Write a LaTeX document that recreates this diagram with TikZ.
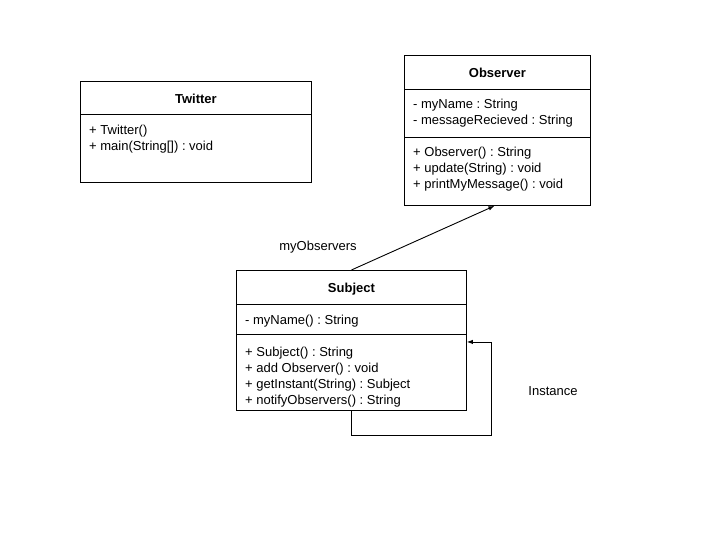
\documentclass[tikz,border=0pt]{standalone}
\usepackage{fontspec}
\setmainfont{Liberation Sans}
\frenchspacing
\usetikzlibrary{calc,arrows.meta}
\tikzset{class box/.style={draw=black, line width=0.9pt, inner sep=0pt},
    class line/.style={draw=black, line width=0.9pt},
    class title/.style={anchor=base, inner sep=0pt, font=\fontsize{13}{16}\selectfont\bfseries},
    member/.style={anchor=base west, inner sep=0pt, font=\fontsize{13}{16}\selectfont},
    assoc/.style={draw=black, line width=0.9pt, -{Latex[length=6pt,width=4.5pt]}}
    }
% #1 name, #2 left, #3 top, #4 width, #5 height
\def\ClassBox#1#2#3#4#5{%
 \node[class box, minimum width=#4pt, minimum height=#5pt, anchor=north west] (#1) at (#2,#3) {};
}
\def\Sep#1#2{%
 \draw[class line] (#1.west |- 0,#2) -- (#1.east |- 0,#2);
}

\begin{document}
\begin{tikzpicture}[x=1pt,y=-1pt]
\useasboundingbox (0,0) rectangle (720,540);
\ClassBox{twitter}{80}{81}{231}{101}
\ClassBox{observer}{404}{55}{186}{150}
\ClassBox{subject}{236}{270}{230}{140}
\Sep{twitter}{114}
\Sep{observer}{89}
\Sep{observer}{137.5}
\Sep{subject}{304}
\Sep{subject}{334}

\node[class title] (twitterName) at (twitter.north |- 0,103.5) {Twitter};
\node[member] (twitterM1) at (89,134.7) {+ Twitter()};
\node[member] (twitterM2) at (89,150.7) {+ main(String[]) : void};

\node[class title] (observerName) at (observer.north |- 0,77.5) {Observer};
\node[member] (observerA1) at (413,108.7) {- myName : String};
\node[member] (observerA2) at (413,124.7) {- messageRecieved : String};
\node[member] (observerM1) at (413,156.7) {+ Observer() : String};
\node[member] (observerM2) at (413,172.7) {+ update(String) : void};
\node[member] (observerM3) at (413,188.7) {+ printMyMessage() : void};

\node[class title] (subjectName) at (subject.north |- 0,292.7) {Subject};
\node[member] (subjectA1) at (245,324.7) {- myName() : String};
\node[member] (subjectM1) at (245,356.7) {+ Subject() : String};
\node[member] (subjectM2) at (245,372.7) {+ add Observer() : void};
\node[member] (subjectM3) at (245,388.7) {+ getInstant(String) : Subject};
\node[member] (subjectM4) at (245,404.7) {+ notifyObservers() : String};

% associations
\draw[assoc] (subject.north) -- ([xshift=-3pt]observer.south);
\node[member, anchor=base] (observersLabel) at (318,250.7) {myObservers};
\draw[assoc] (subject.south) -- ++(0,25) -| ([xshift=25pt,yshift=-1.5pt]subject.east)
  -- ([yshift=-1.5pt]subject.east);
\node[member, anchor=base] (instanceLabel) at (553,395.7) {Instance};
\end{tikzpicture}
\end{document}
